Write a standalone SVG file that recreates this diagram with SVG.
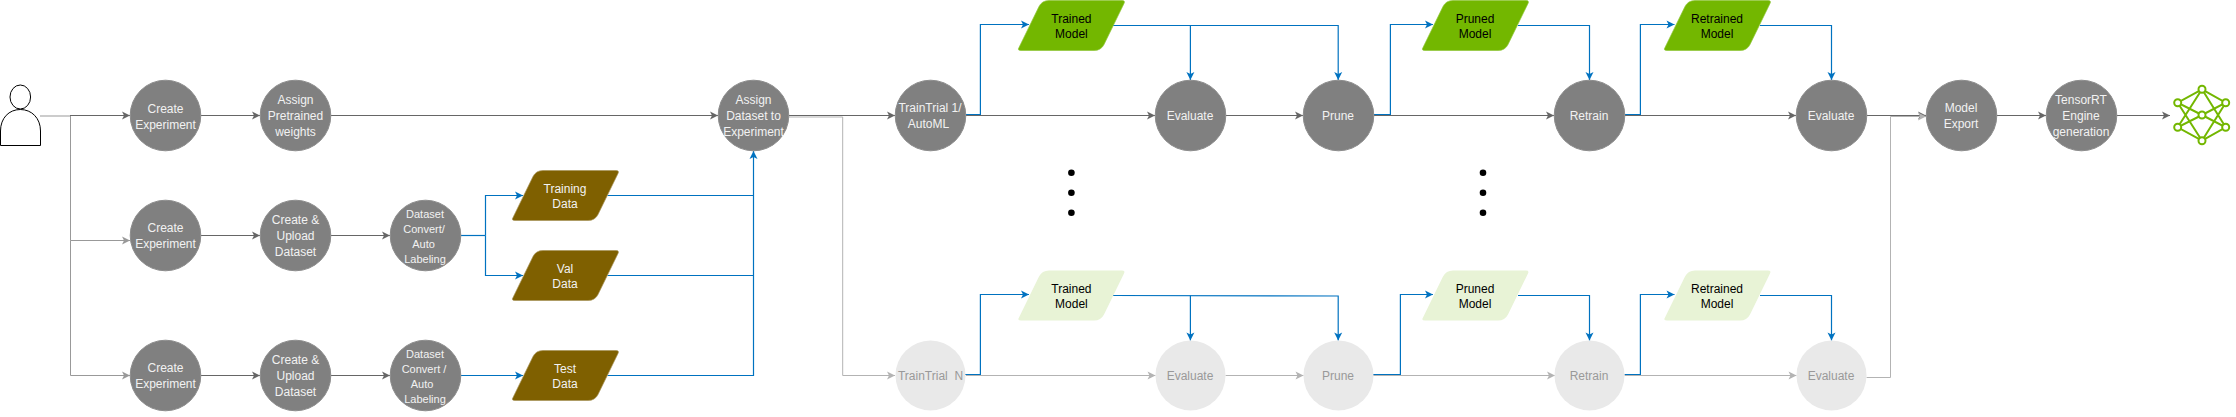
<svg xmlns="http://www.w3.org/2000/svg" width="2236" height="417" viewBox="0 0 2236 417">
<style>
text{font-family:"Liberation Sans",Arial,sans-serif;font-size:12px;text-anchor:middle;white-space:pre}
.s{font-size:11px}
.w{fill:#f2f2f2}
.k{fill:#000}
.g{fill:#999}
.dark{fill:#808080;stroke:#8c8c8c;stroke-width:1}
.light{fill:#e9e9e9}
.c{fill:none;stroke-width:1}
.cd{stroke:#666;marker-end:url(#ad)}
.cg{stroke:#999;marker-end:url(#ag)}
.cl{stroke:#b3b3b3;marker-end:url(#al)}
.cb{stroke:#0072c0;stroke-width:1.2;marker-end:url(#ab)}
.bn{stroke:#0072c0;stroke-width:1.2}
.brown{fill:#7f6000;stroke:#a8945a;stroke-width:.7}
.green{fill:#73b700;stroke:#8fc63a;stroke-width:.7}
.pale{fill:#e8f3d6}
.net{stroke:#73b700;stroke-width:2;fill:none}
.netn{stroke:#73b700;stroke-width:2;fill:#fff}
</style>
<defs>
<marker id="ad" markerUnits="userSpaceOnUse" markerWidth="10" markerHeight="10" refX="9" refY="5" orient="auto"><path d="M1,1 L9,5 L1,9 L3,5 Z" fill="#666"/></marker>
<marker id="ag" markerUnits="userSpaceOnUse" markerWidth="10" markerHeight="10" refX="9" refY="5" orient="auto"><path d="M1,1 L9,5 L1,9 L3,5 Z" fill="#999"/></marker>
<marker id="al" markerUnits="userSpaceOnUse" markerWidth="10" markerHeight="10" refX="9" refY="5" orient="auto"><path d="M1,1 L9,5 L1,9 L3,5 Z" fill="#b3b3b3"/></marker>
<marker id="ab" markerUnits="userSpaceOnUse" markerWidth="10" markerHeight="10" refX="9" refY="5" orient="auto"><path d="M1,1 L9,5 L1,9 L3,5 Z" fill="#0072c0"/></marker>
<path id="para" d="M31,0H104Q107.5,0 106,3L86,44Q83,50 76,50H3Q-1,50 1,47L21,6Q24,0 31,0Z"/>
</defs>
<g id="connectors" class="c">
<path class="c cg" d="M40,116H70.5V240.5H130"/>
<path class="c cg" d="M70.5,240.5V375.5H130"/>
<path class="c cd" d="M70,115.5H130"/>
<path class="c cd" d="M201,115.5H260"/>
<path class="c cd" d="M331,115.5H718"/>
<path class="c cd" d="M201,235.5H260"/>
<path class="c cd" d="M331,235.5H390"/>
<path class="c cd" d="M201,375.5H260"/>
<path class="c cd" d="M331,375.5H390"/>
<path class="c bn" d="M461,235.5H485.5"/>
<path class="c cb" d="M485.5,235.5V195.5H523"/>
<path class="c cb" d="M485.5,235.5V275.5H523"/>
<path class="c cb" d="M461,375.5H523"/>
<path class="c bn" d="M607.5,195.5H753M607.5,275.5H753"/>
<path class="c cb" d="M607.5,375.5H753.5V151"/>
<path class="c cl" d="M789,117H842.7V375.5H895"/>
<path class="c cd" d="M789,115.5H895"/>
<path class="c cd" d="M966,115.5H1155"/>
<path class="c cd" d="M1226,115.5H1303"/>
<path class="c cd" d="M1374,115.5H1554"/>
<path class="c cd" d="M1625,115.5H1796"/>
<path class="c cd" d="M1867,115.5H1926"/>
<path class="c cd" d="M1997,115.5H2046"/>
<path class="c cd" d="M2117,115.5H2170"/>
<path class="c cb" d="M966,114.5H980.4V24.5H1029"/>
<path class="c cb" d="M1190.4,25.5V80"/>
<path class="c cb" d="M1113,25.5H1338.2V80"/>
<path class="c cb" d="M1374,114.5H1390.4V24.5H1433"/>
<path class="c cb" d="M1518,25.5H1589.5V80"/>
<path class="c cb" d="M1625,114.5H1640.4V24.5H1674.5"/>
<path class="c cb" d="M1760,25.5H1831.5V80"/>
<path class="c cl" d="M966,375.5H1155.5"/>
<path class="c cl" d="M1225.5,375.5H1303.5"/>
<path class="c cl" d="M1373,375.5H1555"/>
<path class="c cl" d="M1624.5,375.5H1796.5"/>
<path class="c cl" d="M1866.5,377.5H1890.5V116.5H1926"/>
<path class="c cb" d="M965,374.5H980.4V294.5H1029"/>
<path class="c cb" d="M1190.4,295.5V340.5"/>
<path class="c cb" d="M1113,295.5L1338.2,296V340.5"/>
<path class="c cb" d="M1373,374.5H1400.4V294.5H1433"/>
<path class="c cb" d="M1518,295.5H1589.5V340.5"/>
<path class="c cb" d="M1624.5,374.5H1640.4V294.5H1674.5"/>
<path class="c cb" d="M1760,295.5H1831.5V340.5"/>
</g>
<g id="user"><ellipse cx="20.3" cy="97" rx="10.3" ry="12" fill="#fff" stroke="#000"/><path d="M.5,145.5V131C.5,118 9,109.5 20.3,109.5S40.5,118 40.5,131V145.5Z" fill="#fff" stroke="#000"/></g>
<g id="create1"><circle class="dark" cx="165.5" cy="115.5" r="35.3"/><text class="w"><tspan x="165.5" y="112.5">Create</tspan><tspan x="165.5" y="128.5">Experiment</tspan></text></g>
<g id="assign-weights"><circle class="dark" cx="295.5" cy="115.5" r="35.3"/><text class="w"><tspan x="295.5" y="104">Assign</tspan><tspan x="295.5" y="120">Pretrained</tspan><tspan x="295.5" y="136">weights</tspan></text></g>
<g id="create2"><circle class="dark" cx="165.5" cy="235.5" r="35.3"/><text class="w"><tspan x="165.5" y="232">Create</tspan><tspan x="165.5" y="248">Experiment</tspan></text></g>
<g id="upload2"><circle class="dark" cx="295.5" cy="235.5" r="35.3"/><text class="w"><tspan x="295.5" y="224">Create &amp;</tspan><tspan x="295.5" y="240">Upload</tspan><tspan x="295.5" y="256">Dataset</tspan></text></g>
<g id="convert2"><circle class="dark" cx="425.5" cy="235.5" r="35.3"/><text class="w s"><tspan x="425" y="218">Dataset</tspan><tspan x="424" y="233">Convert/</tspan><tspan x="423.5" y="248">Auto</tspan><tspan x="425" y="263">Labeling</tspan></text></g>
<g id="create3"><circle class="dark" cx="165.5" cy="375.5" r="35.3"/><text class="w"><tspan x="165.5" y="372">Create</tspan><tspan x="165.5" y="388">Experiment</tspan></text></g>
<g id="upload3"><circle class="dark" cx="295.5" cy="375.5" r="35.3"/><text class="w"><tspan x="295.5" y="364">Create &amp;</tspan><tspan x="295.5" y="380">Upload</tspan><tspan x="295.5" y="396">Dataset</tspan></text></g>
<g id="convert3"><circle class="dark" cx="425.5" cy="375.5" r="35.3"/><text class="w s"><tspan x="425" y="358">Dataset</tspan><tspan x="424" y="373">Convert /</tspan><tspan x="422" y="388">Auto</tspan><tspan x="425" y="403">Labeling</tspan></text></g>
<g id="training-data"><use href="#para" class="brown" x="512" y="170.5"/><text class="w"><tspan x="565" y="193">Training</tspan><tspan x="565" y="208">Data</tspan></text></g>
<g id="val-data"><use href="#para" class="brown" x="512" y="250.5"/><text class="w"><tspan x="565" y="272.5">Val</tspan><tspan x="565" y="288">Data</tspan></text></g>
<g id="test-data"><use href="#para" class="brown" x="512" y="350.5"/><text class="w"><tspan x="565" y="373">Test</tspan><tspan x="565" y="388">Data</tspan></text></g>
<g id="assign-dataset"><circle class="dark" cx="753.5" cy="115.5" r="35.3"/><text class="w"><tspan x="753.5" y="104">Assign</tspan><tspan x="753.5" y="120">Dataset to</tspan><tspan x="753.5" y="136">Experiment</tspan></text></g>
<g id="trial1"><circle class="dark" cx="930.5" cy="115.5" r="35.3"/><text class="w"><tspan x="930" y="112">TrainTrial 1/</tspan><tspan x="928.5" y="128">AutoML</tspan></text></g>
<g id="trained1"><use href="#para" class="green" x="1018" y=".5"/><text class="k"><tspan x="1071.4" y="23">Trained</tspan><tspan x="1071.4" y="38">Model</tspan></text></g>
<g id="evaluate1"><circle class="dark" cx="1190.5" cy="115.5" r="35.3"/><text class="w" x="1190" y="120">Evaluate</text></g>
<g id="prune1"><circle class="dark" cx="1338.5" cy="115.5" r="35.3"/><text class="w" x="1338" y="120">Prune</text></g>
<g id="pruned1"><use href="#para" class="green" x="1422" y=".5"/><text class="k"><tspan x="1475" y="23">Pruned</tspan><tspan x="1475" y="38">Model</tspan></text></g>
<g id="retrain1"><circle class="dark" cx="1589.5" cy="115.5" r="35.3"/><text class="w" x="1589" y="120">Retrain</text></g>
<g id="retrained1"><use href="#para" class="green" x="1664" y=".5"/><text class="k"><tspan x="1717" y="23">Retrained</tspan><tspan x="1717" y="38">Model</tspan></text></g>
<g id="evaluate2"><circle class="dark" cx="1831.5" cy="115.5" r="35.3"/><text class="w" x="1831" y="120">Evaluate</text></g>
<g id="export"><circle class="dark" cx="1961.5" cy="115.5" r="35.3"/><text class="w"><tspan x="1961" y="112">Model</tspan><tspan x="1961" y="128">Export</tspan></text></g>
<g id="engine"><circle class="dark" cx="2081.5" cy="115.5" r="35.3"/><text class="w"><tspan x="2081" y="104">TensorRT</tspan><tspan x="2081" y="120">Engine</tspan><tspan x="2081" y="136">generation</tspan></text></g>
<g id="network">
<path class="net" d="M2202,89.3L2177.7,102.7L2202,115L2225.7,127.3L2202,140.7L2177.7,127.3L2202,115L2225.7,102.7L2202,89.3M2202,89.3L2177.7,127.3M2202,89.3L2225.7,127.3M2202,140.7L2177.7,102.7M2202,140.7L2225.7,102.7"/>
<circle class="netn" cx="2202" cy="89.3" r="3.5"/><circle class="netn" cx="2177.7" cy="102.7" r="3.5"/><circle class="netn" cx="2225.7" cy="102.7" r="3.5"/><circle class="netn" cx="2202" cy="115" r="3.5"/><circle class="netn" cx="2177.7" cy="127.3" r="3.5"/><circle class="netn" cx="2225.7" cy="127.3" r="3.5"/><circle class="netn" cx="2202" cy="140.7" r="3.5"/>
</g>
<g id="dots1"><circle cx="1071.4" cy="172.7" r="3.3"/><circle cx="1071.4" cy="192.7" r="3.3"/><circle cx="1071.4" cy="212.7" r="3.3"/></g>
<g id="dots2"><circle cx="1483" cy="172.7" r="3.3"/><circle cx="1483" cy="192.7" r="3.3"/><circle cx="1483" cy="212.7" r="3.3"/></g>
<g id="trialN"><circle class="light" cx="930.5" cy="375.5" r="35"/><text class="g" x="930.5" y="380">TrainTrial  N</text></g>
<g id="trainedN"><use href="#para" class="pale" x="1018" y="270.5"/><text class="k"><tspan x="1071.4" y="293">Trained</tspan><tspan x="1071.4" y="308">Model</tspan></text></g>
<g id="evaluateN1"><circle class="light" cx="1190.5" cy="375.5" r="35"/><text class="g" x="1190" y="380">Evaluate</text></g>
<g id="pruneN"><circle class="light" cx="1338.5" cy="375.5" r="35"/><text class="g" x="1338" y="380">Prune</text></g>
<g id="prunedN"><use href="#para" class="pale" x="1422" y="270.5"/><text class="k"><tspan x="1475" y="293">Pruned</tspan><tspan x="1475" y="308">Model</tspan></text></g>
<g id="retrainN"><circle class="light" cx="1589.5" cy="375.5" r="35"/><text class="g" x="1589" y="380">Retrain</text></g>
<g id="retrainedN"><use href="#para" class="pale" x="1664" y="270.5"/><text class="k"><tspan x="1717" y="293">Retrained</tspan><tspan x="1717" y="308">Model</tspan></text></g>
<g id="evaluateN2"><circle class="light" cx="1831.5" cy="375.5" r="35"/><text class="g" x="1831" y="380">Evaluate</text></g>
</svg>
